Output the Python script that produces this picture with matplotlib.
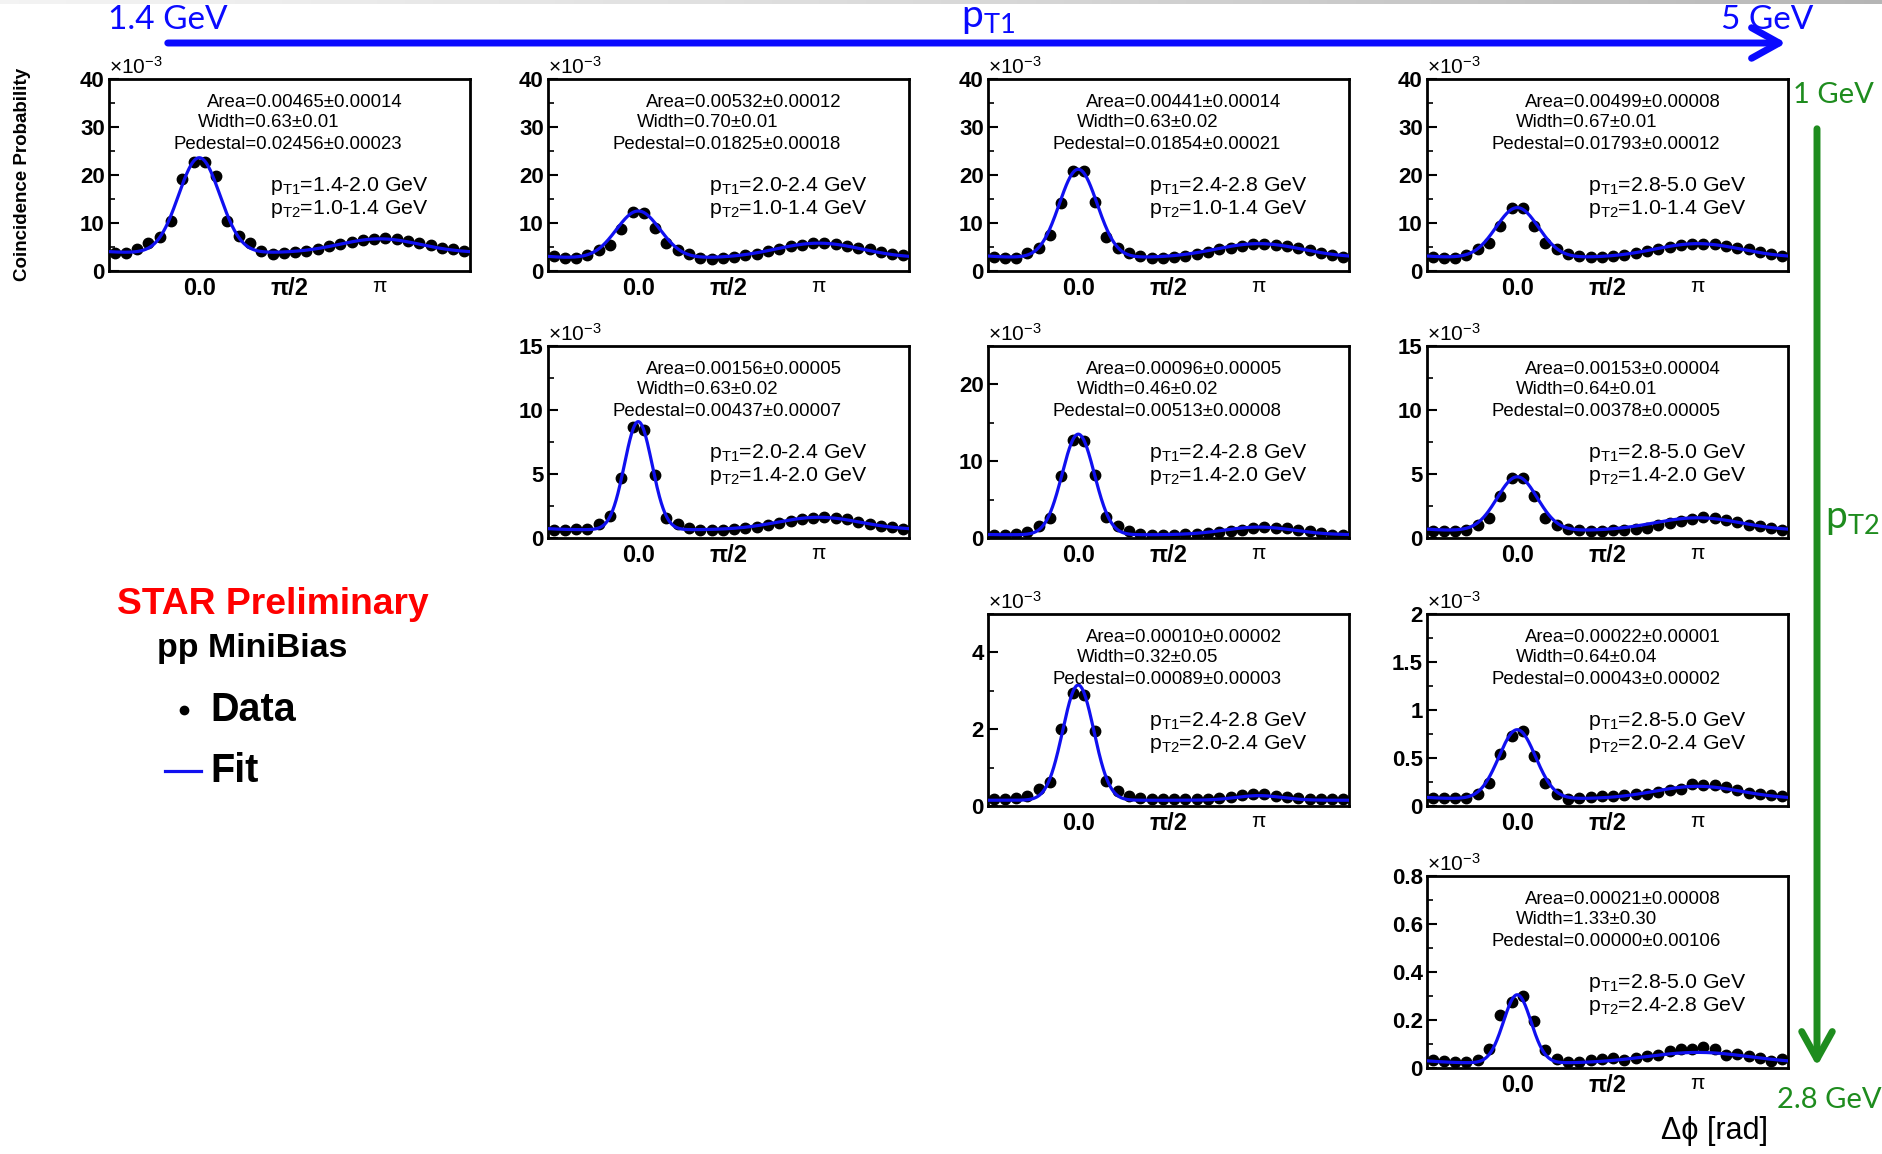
import numpy as np
import matplotlib.pyplot as plt
from matplotlib.patches import FancyArrowPatch
from matplotlib.lines import Line2D

plt.rcParams['font.family'] = ['Liberation Sans', 'DejaVu Sans']
plt.rcParams['mathtext.fontset'] = 'custom'
plt.rcParams['mathtext.rm'] = 'Liberation Sans'
plt.rcParams['mathtext.it'] = 'Liberation Sans:italic'
plt.rcParams['mathtext.bf'] = 'Liberation Sans:bold'
plt.rcParams['mathtext.sf'] = 'Lato'

# coincidence probability per dphi bin (units of 1e-3), 32 bins from -pi/2 to 3pi/2
# names: pT1 bin _ pT2 bin
prob_14_10 = [3.8, 3.8, 4.6, 5.9, 7.0, 10.5, 19.1, 22.8, 22.8, 19.7, 10.5, 7.2, 5.9, 4.1, 3.6, 3.8,
              3.9, 4.1, 4.5, 5.2, 5.7, 6.0, 6.4, 6.7, 6.8, 6.6, 6.2, 5.9, 5.5, 4.8, 4.5, 4.1]
prob_20_10 = [3.1, 2.8, 2.8, 3.3, 4.3, 5.5, 8.7, 12.2, 12.1, 9.0, 5.9, 4.3, 3.5, 2.8, 2.6, 2.8,
              3.0, 3.3, 3.6, 4.2, 4.6, 5.2, 5.5, 5.9, 5.9, 5.7, 5.3, 4.8, 4.5, 4.0, 3.5, 3.3]
prob_24_10 = [3.0, 2.8, 2.8, 3.8, 4.8, 7.6, 14.2, 20.8, 20.8, 14.3, 7.1, 4.7, 3.8, 3.1, 2.8, 2.8,
              3.0, 3.1, 3.5, 4.0, 4.5, 4.8, 5.3, 5.7, 5.7, 5.5, 5.2, 4.7, 4.3, 3.7, 3.3, 3.0]
prob_28_10 = [3.0, 2.8, 2.8, 3.3, 4.5, 5.9, 9.3, 13.1, 13.1, 9.3, 5.9, 4.5, 3.5, 3.1, 2.9, 2.9,
              3.1, 3.3, 3.7, 4.2, 4.5, 5.0, 5.4, 5.7, 5.7, 5.6, 5.2, 4.8, 4.5, 3.9, 3.5, 3.1]
prob_20_14 = [0.66, 0.66, 0.70, 0.74, 1.1, 1.7, 4.7, 8.7, 8.4, 4.9, 1.6, 1.1, 0.8, 0.66, 0.66, 0.66,
              0.70, 0.8, 0.87, 1.05, 1.2, 1.3, 1.45, 1.6, 1.63, 1.6, 1.45, 1.25, 1.1, 0.97, 0.84, 0.74]
prob_24_14 = [0.35, 0.35, 0.53, 0.8, 1.55, 2.65, 8.05, 12.8, 12.6, 8.2, 2.75, 1.55, 0.9, 0.53, 0.44, 0.44,
              0.44, 0.53, 0.53, 0.66, 0.8, 0.9, 1.1, 1.33, 1.46, 1.33, 1.24, 1.1, 0.9, 0.66, 0.44, 0.44]
prob_28_14 = [0.58, 0.58, 0.58, 0.66, 1.05, 1.6, 3.3, 4.7, 4.7, 3.3, 1.6, 1.05, 0.74, 0.6, 0.58, 0.58,
              0.6, 0.66, 0.7, 0.8, 1.0, 1.18, 1.3, 1.5, 1.63, 1.58, 1.37, 1.24, 1.05, 0.92, 0.8, 0.66]
prob_24_20 = [0.17, 0.17, 0.2, 0.26, 0.43, 0.62, 2.0, 2.94, 2.9, 1.95, 0.65, 0.39, 0.26, 0.2, 0.17, 0.17,
              0.17, 0.17, 0.17, 0.19, 0.22, 0.24, 0.28, 0.32, 0.3, 0.26, 0.24, 0.22, 0.19, 0.17, 0.17, 0.17]
prob_28_20 = [0.08, 0.08, 0.08, 0.08, 0.13, 0.24, 0.54, 0.73, 0.78, 0.52, 0.24, 0.12, 0.07, 0.08, 0.09, 0.1,
              0.1, 0.11, 0.12, 0.13, 0.15, 0.17, 0.18, 0.23, 0.22, 0.22, 0.2, 0.17, 0.14, 0.12, 0.11, 0.1]
prob_28_24 = [0.035, 0.028, 0.025, 0.025, 0.035, 0.08, 0.22, 0.277, 0.298, 0.194, 0.076, 0.037, 0.025, 0.025, 0.032, 0.037,
              0.042, 0.035, 0.042, 0.048, 0.055, 0.07, 0.079, 0.079, 0.087, 0.079, 0.055, 0.06, 0.048, 0.042, 0.03, 0.037]

# fit curve parameters: baseline, near amp, near sigma, away amp, away sigma (1e-3)
fit_14_10 = [3.8, 19.8, 0.36, 2.9, 0.70]
fit_20_10 = [2.7, 9.8, 0.38, 3.1, 0.75]
fit_24_10 = [2.8, 18.4, 0.33, 2.9, 0.75]
fit_28_10 = [2.8, 10.4, 0.37, 2.9, 0.75]
fit_20_14 = [0.64, 8.45, 0.24, 0.98, 0.72]
fit_24_14 = [0.42, 13.1, 0.28, 1.0, 0.60]
fit_28_14 = [0.58, 4.2, 0.35, 1.0, 0.75]
fit_24_20 = [0.15, 3.0, 0.27, 0.12, 0.40]
fit_28_20 = [0.075, 0.72, 0.32, 0.13, 0.75]
fit_28_24 = [0.02, 0.285, 0.24, 0.045, 0.90]

area_txt = ["0.00465±0.00014", "0.00532±0.00012", "0.00441±0.00014", "0.00499±0.00008",
            "0.00156±0.00005", "0.00096±0.00005", "0.00153±0.00004",
            "0.00010±0.00002", "0.00022±0.00001", "0.00021±0.00008"]
width_txt = ["0.63±0.01", "0.70±0.01", "0.63±0.02", "0.67±0.01",
             "0.63±0.02", "0.46±0.02", "0.64±0.01",
             "0.32±0.05", "0.64±0.04", "1.33±0.30"]
ped_txt = ["0.02456±0.00023", "0.01825±0.00018", "0.01854±0.00021", "0.01793±0.00012",
           "0.00437±0.00007", "0.00513±0.00008", "0.00378±0.00005",
           "0.00089±0.00003", "0.00043±0.00002", "0.00000±0.00106"]
pt1_bin = ["1.4-2.0", "2.0-2.4", "2.4-2.8", "2.8-5.0", "2.0-2.4", "2.4-2.8", "2.8-5.0", "2.4-2.8", "2.8-5.0", "2.8-5.0"]
pt2_bin = ["1.0-1.4", "1.0-1.4", "1.0-1.4", "1.0-1.4", "1.4-2.0", "1.4-2.0", "1.4-2.0", "2.0-2.4", "2.0-2.4", "2.4-2.8"]
grid_pos = [(0, 0), (0, 1), (0, 2), (0, 3), (1, 1), (1, 2), (1, 3), (2, 2), (2, 3), (3, 3)]
y_max = [40, 40, 40, 40, 15, 25, 15, 5, 2, 0.8]
y_major = [[0, 10, 20, 30, 40]] * 4 + [[0, 5, 10, 15], [0, 10, 20], [0, 5, 10, 15],
                                       [0, 2, 4], [0, 0.5, 1, 1.5, 2], [0, 0.2, 0.4, 0.6, 0.8]]
y_labels = [["0", "10", "20", "30", "40"]] * 4 + [["0", "5", "10", "15"], ["0", "10", "20"], ["0", "5", "10", "15"],
                                                 ["0", "2", "4"], ["0", "0.5", "1", "1.5", "2"],
                                                 ["0", "0.2", "0.4", "0.6", "0.8"]]
y_minor_step = [5, 5, 5, 5, 2.5, 5, 2.5, 1, 0.25, 0.1]

probs = [prob_14_10, prob_20_10, prob_24_10, prob_28_10, prob_20_14, prob_24_14, prob_28_14,
         prob_24_20, prob_28_20, prob_28_24]
fits = [fit_14_10, fit_20_10, fit_24_10, fit_28_10, fit_20_14, fit_24_14, fit_28_14,
        fit_24_20, fit_28_20, fit_28_24]

edges = np.linspace(-np.pi / 2, 3 * np.pi / 2, 33)
centers = 0.5 * (edges[1:] + edges[:-1])
xf = np.linspace(-np.pi / 2, 3 * np.pi / 2, 600)


def fit_curve(x, p):
    base, an, sn, aa, sa = p
    y = np.full_like(x, base)
    for n in (-1, 0, 1):
        y += an * np.exp(-(x - 2 * np.pi * n) ** 2 / (2 * sn ** 2))
        y += aa * np.exp(-(x - np.pi - 2 * np.pi * n) ** 2 / (2 * sa ** 2))
    return y


W, H = 1883, 1154
fig = plt.figure(figsize=(W / 100, H / 100), dpi=100)
col_x = [109, 548, 988, 1427]
row_y = [79, 346, 614, 876]
ax_w, ax_h = 361, 192


def fx(x):
    return x / W


def fy(y):
    return 1 - y / H


# faint grey strip along the top edge
strip = fig.add_axes([0, fy(4), 1, 4 / H])
strip.imshow(np.linspace(0.1, 0.4, 200)[None, :], cmap='Greys', vmin=0, vmax=1, aspect='auto')
strip.axis('off')

for i in range(10):
    r, c = grid_pos[i]
    ax = fig.add_axes([fx(col_x[c]), fy(row_y[r] + ax_h), ax_w / W, ax_h / H])
    ax.plot(centers, probs[i], 'o', color='black', ms=7.5, zorder=2)
    ax.plot(xf, fit_curve(xf, fits[i]), color='#1010f0', lw=2.3, zorder=3)
    ax.set_xlim(-np.pi / 2, 3 * np.pi / 2)
    ax.set_ylim(0, y_max[i])
    ax.set_yticks(y_major[i])
    ax.set_yticklabels(y_labels[i], fontweight='bold', fontsize=16)
    ax.set_yticks(np.arange(0, y_max[i] + 1e-9, y_minor_step[i]), minor=True)
    ax.tick_params(axis='y', which='major', direction='in', length=7, width=1.5, pad=3)
    ax.tick_params(axis='y', which='minor', direction='in', length=4, width=1.2)
    ax.set_xticks([0, np.pi / 2, np.pi])
    lbls = ax.set_xticklabels(["0.0", "π/2", "π"], fontweight='bold', fontsize=17)
    lbls[2].set_fontweight('normal')
    lbls[2].set_fontsize(15)
    ax.tick_params(axis='x', length=0, pad=4)
    for s in ax.spines.values():
        s.set_linewidth(2)
    ax.text(0.0, 1.005, r'$\times$10$^{-3}$', transform=ax.transAxes, ha='left', va='bottom', fontsize=15)
    ax.text(0.27, 0.88, "Area=" + area_txt[i], transform=ax.transAxes, ha='left', va='center', fontsize=13.4)
    ax.text(0.245, 0.775, "Width=" + width_txt[i], transform=ax.transAxes, ha='left', va='center', fontsize=13.4)
    ax.text(0.18, 0.66, "Pedestal=" + ped_txt[i], transform=ax.transAxes, ha='left', va='center', fontsize=13.4)
    ax.text(0.445, 0.445, r'p$_{\mathrm{T1}}$=' + pt1_bin[i] + ' GeV', transform=ax.transAxes,
            ha='left', va='center', fontsize=15.3)
    ax.text(0.445, 0.325, r'p$_{\mathrm{T2}}$=' + pt2_bin[i] + ' GeV', transform=ax.transAxes,
            ha='left', va='center', fontsize=15.3)

# axis labels
fig.text(fx(23), fy(174), "Coincidence Probability", rotation=90, ha='center', va='center',
         fontsize=13.5, fontweight='bold')
fig.text(fx(1661), fy(1131), "Δϕ [rad]", ha='left', va='center', fontsize=22)

# pT1 arrow
blue = '#0a0aff'
green = '#1e8c1e'
fig.add_artist(FancyArrowPatch((fx(165), fy(43)), (fx(1789), fy(43)), transform=fig.transFigure,
                               arrowstyle='->,head_length=0.9,head_width=0.5', mutation_scale=22,
                               color=blue, lw=5))
fig.text(fx(108), fy(20), "1.4 GeV", color=blue, fontsize=24, family='Lato', ha='left', va='center')
fig.text(fx(1721), fy(20), "5 GeV", color=blue, fontsize=24, family='Lato', ha='left', va='center')
fig.text(fx(961), fy(18), r'$\mathsf{p}_{\mathsf{T1}}$', color=blue, fontsize=28, ha='left', va='center')

# pT2 arrow
fig.add_artist(FancyArrowPatch((fx(1817), fy(126)), (fx(1817), fy(1069)), transform=fig.transFigure,
                               arrowstyle='->,head_length=0.9,head_width=0.5', mutation_scale=22,
                               color=green, lw=5))
fig.text(fx(1793), fy(95), "1 GeV", color=green, fontsize=21, family='Lato', ha='left', va='center')
fig.text(fx(1825), fy(519), r'$\mathsf{p}_{\mathsf{T2}}$', color=green, fontsize=28, ha='left', va='center')
fig.text(fx(1777), fy(1100), "2.8 GeV", color=green, fontsize=21, family='Lato', ha='left', va='center')

# legend block
fig.text(fx(117), fy(605), "STAR Preliminary", color='#ff0000', fontsize=26.8, fontweight='bold',
         ha='left', va='center')
fig.text(fx(157), fy(648), "pp MiniBias", color='black', fontsize=24.5, fontweight='bold',
         ha='left', va='center')
fig.add_artist(Line2D([fx(184)], [fy(710)], marker='o', color='black', ms=6, transform=fig.transFigure))
fig.text(fx(210), fy(710), "Data", color='black', fontsize=28.5, fontweight='bold', ha='left', va='center')
fig.add_artist(Line2D([fx(165), fx(201)], [fy(771), fy(771)], color='#1010f0', lw=2.3, transform=fig.transFigure))
fig.text(fx(210), fy(771), "Fit", color='black', fontsize=28.5, fontweight='bold', ha='left', va='center')

fig.savefig("out.png", dpi=100)
